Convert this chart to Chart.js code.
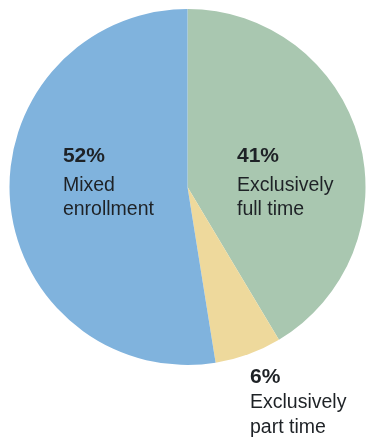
<!DOCTYPE html>
<html>
<head>
<meta charset="utf-8">
<script src="https://cdn.jsdelivr.net/npm/chart.js@4/dist/chart.umd.min.js"></script>
<style>
  html, body { margin: 0; padding: 0; background: #ffffff; }
  #wrap { width: 369px; height: 437px; position: relative; }
</style>
</head>
<body>
<div id="wrap"><canvas id="c" width="369" height="437"></canvas></div>
<script>
const categories = ["Exclusively full time", "Exclusively part time", "Mixed enrollment"];
const values = [41, 6, 52];
const percentLabels = ["41%", "6%", "52%"];
const labelLines = [["Exclusively", "full time"], ["Exclusively", "part time"], ["Mixed", "enrollment"]];
const colors = ["#a9c7b0", "#eed99c", "#80b3dd"];

// label placement relative to pie centre, in units of radius
const labelPlace = [
  { dx: 0.278, dy: -0.14, below: false },
  { dx: 0.351, dy: 0, below: true },
  { dx: -0.70, dy: -0.14, below: false }
];

const labelPlugin = {
  id: 'sliceLabels',
  afterDatasetsDraw(chart) {
    const ctx = chart.ctx;
    const meta = chart.getDatasetMeta(0);
    meta.data.forEach((arc, i) => {
      const r = arc.outerRadius;
      const cx = arc.x, cy = arc.y;
      const p = labelPlace[i];
      const x = cx + p.dx * r;
      const y = p.below ? cy + r + 18 : cy + p.dy * r;
      ctx.save();
      ctx.textAlign = 'left';
      ctx.textBaseline = 'alphabetic';
      ctx.fillStyle = '#1e2226';
      ctx.font = 'bold 21px "Liberation Sans", Arial, sans-serif';
      ctx.fillText(percentLabels[i], x, y);
      ctx.font = '19.5px "Liberation Sans", Arial, sans-serif';
      const first = p.below ? 25 : 29;
      const lh = p.below ? 25 : 24;
      labelLines[i].forEach((t, k) => {
        ctx.fillText(t, x, y + first + k * lh);
      });
      ctx.restore();
    });
  }
};

new Chart(document.getElementById('c'), {
  type: 'pie',
  data: {
    labels: categories,
    datasets: [{
      data: values,
      backgroundColor: colors,
      borderWidth: 0
    }]
  },
  options: {
    responsive: false,
    animation: false,
    layout: { padding: { left: 9, top: 9, right: 3, bottom: 72 } },
    plugins: {
      legend: { display: false },
      tooltip: { enabled: false }
    }
  },
  plugins: [labelPlugin]
});
</script>
</body>
</html>
